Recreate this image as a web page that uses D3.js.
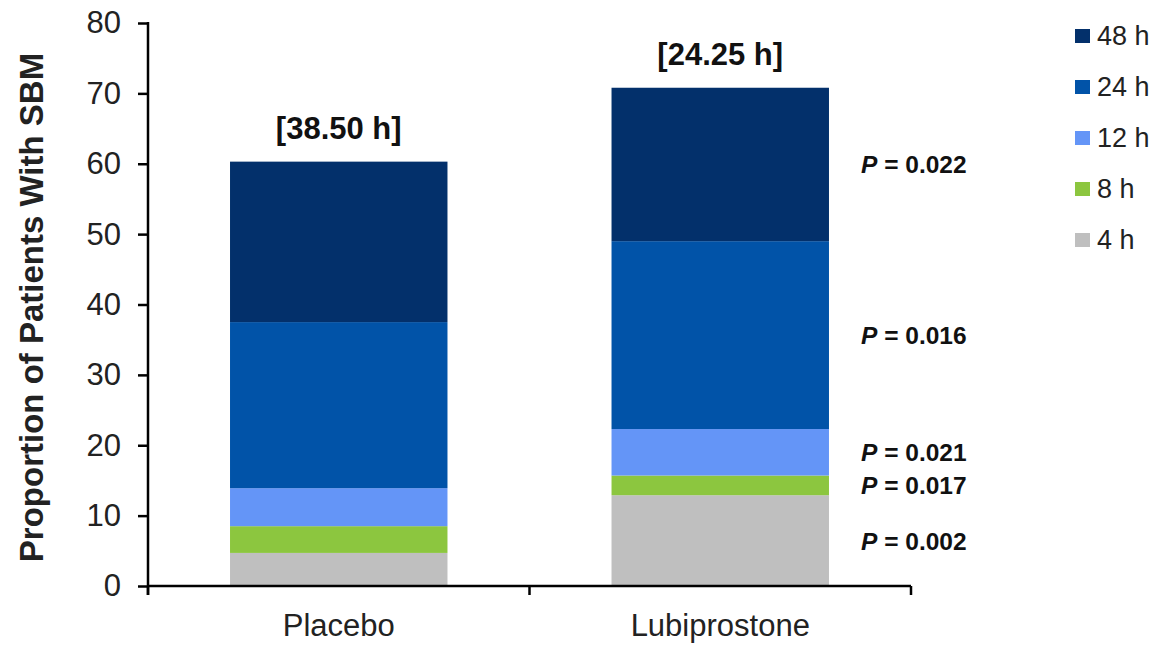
<!DOCTYPE html>
<html>
<head>
<meta charset="utf-8">
<script src="https://cdn.jsdelivr.net/npm/d3@7"></script>
<style>
  html, body { margin: 0; padding: 0; background: #ffffff; }
  svg { display: block; font-family: "Liberation Sans", Arial, Helvetica, sans-serif; }
</style>
</head>
<body>
<svg id="chart" width="1163" height="647"></svg>
<script>
// Groups on the x axis
const categories = ["Placebo", "Lubiprostone"];
// Time windows, bottom of the stack first
const timepoints = ["4 h", "8 h", "12 h", "24 h", "48 h"];
// Cumulative proportion of patients with SBM within each time window (%)
const placeboCumulative = [4.7, 8.5, 13.9, 37.5, 60.3];
const lubiprostoneCumulative = [12.9, 15.7, 22.3, 49.0, 70.8];
// Median time to first SBM, shown above each bar
const medianLabels = ["[38.50 h]", "[24.25 h]"];
// P values for lubiprostone vs placebo at each time window
const pValues = ["0.002", "0.017", "0.021", "0.016", "0.022"];
// Y axis ticks
const yTicks = [0, 10, 20, 30, 40, 50, 60, 70, 80];

const colors = ["#bfbfbf", "#8cc63f", "#6495f7", "#0153a8", "#03306b"];
const seriesByCategory = [placeboCumulative, lubiprostoneCumulative];

const svg = d3.select("#chart");

const x = d3.scaleBand()
  .domain(categories)
  .range([148, 911])
  .paddingInner(0.43)
  .paddingOuter(0.215);

const y = d3.scaleLinear()
  .domain([0, 80])
  .range([586, 23]);

const color = d3.scaleOrdinal().domain(timepoints).range(colors);

// Stacked segments: each segment spans the previous cumulative value to the current one
const segments = [];
categories.forEach((cat, ci) => {
  const vals = seriesByCategory[ci];
  vals.forEach((v, ti) => {
    segments.push({ cat, time: timepoints[ti], y0: ti === 0 ? 0 : vals[ti - 1], y1: v });
  });
});

svg.append("g")
  .selectAll("rect")
  .data(segments)
  .join("rect")
  .attr("x", d => x(d.cat))
  .attr("width", x.bandwidth())
  .attr("y", d => y(d.y1))
  .attr("height", d => y(d.y0) - y(d.y1))
  .attr("fill", d => color(d.time));

// Median time labels above the bars
svg.append("g")
  .selectAll("text")
  .data(categories)
  .join("text")
  .attr("x", d => x(d) + x.bandwidth() / 2)
  .attr("y", (d, i) => y(seriesByCategory[i][timepoints.length - 1]) - 23)
  .attr("text-anchor", "middle")
  .attr("font-size", 31)
  .attr("font-weight", "bold")
  .attr("fill", "#111")
  .text((d, i) => medianLabels[i]);

// P values beside the lubiprostone bar, centred on each segment
const pLabels = svg.append("g")
  .selectAll("text")
  .data(pValues)
  .join("text")
  .attr("x", 861)
  .attr("y", (d, i) => {
    const vals = lubiprostoneCumulative;
    const lo = i === 0 ? 0 : vals[i - 1];
    return y((lo + vals[i]) / 2);
  })
  .attr("dominant-baseline", "central")
  .attr("font-size", 24.5)
  .attr("font-weight", "bold")
  .attr("fill", "#111");
pLabels.append("tspan").attr("font-style", "italic").text("P");
pLabels.append("tspan").text(d => " = " + d);

// Y axis
const yAxis = svg.append("g")
  .attr("transform", "translate(148,0)")
  .call(d3.axisLeft(y).tickValues(yTicks).tickSize(10).tickSizeOuter(0).tickPadding(17));
yAxis.select(".domain").remove();
yAxis.selectAll(".tick line").attr("stroke", "#000").attr("stroke-width", 2.5);
yAxis.selectAll(".tick text")
  .attr("font-size", 31)
  .attr("fill", "#222")
  .attr("font-family", "Liberation Sans, Arial, sans-serif");
svg.append("line")
  .attr("x1", 148).attr("x2", 148)
  .attr("y1", y(80) - 1).attr("y2", y(0) + 9)
  .attr("stroke", "#000").attr("stroke-width", 2.5);

// X axis: baseline with ticks at the group boundaries
const [xr0, xr1] = x.range();
svg.append("line")
  .attr("x1", xr0).attr("x2", xr1)
  .attr("y1", y(0)).attr("y2", y(0))
  .attr("stroke", "#000").attr("stroke-width", 2.5);
const boundaries = [xr0, (xr0 + xr1) / 2, xr1];
svg.append("g")
  .selectAll("line")
  .data(boundaries)
  .join("line")
  .attr("x1", d => d).attr("x2", d => d)
  .attr("y1", y(0)).attr("y2", y(0) + 9)
  .attr("stroke", "#000").attr("stroke-width", 2.5);

const xAxis = svg.append("g")
  .attr("transform", `translate(0,${y(0)})`)
  .call(d3.axisBottom(x).tickSize(0).tickPadding(28));
xAxis.select(".domain").remove();
xAxis.selectAll(".tick text")
  .attr("font-size", 31)
  .attr("fill", "#222")
  .attr("font-family", "Liberation Sans, Arial, sans-serif");

// Y axis title
svg.append("text")
  .attr("transform", `translate(43,${(y(0) + y(80)) / 2 + 3}) rotate(-90)`)
  .attr("text-anchor", "middle")
  .attr("font-size", 33)
  .attr("font-weight", "bold")
  .attr("fill", "#222")
  .text("Proportion of Patients With SBM");

// Legend, longest window first
const legendItems = timepoints.slice().reverse();
const legend = svg.append("g")
  .selectAll("g")
  .data(legendItems)
  .join("g")
  .attr("transform", (d, i) => `translate(1075,${36 + i * 51})`);
legend.append("rect")
  .attr("x", 0).attr("y", -7)
  .attr("width", 15).attr("height", 14)
  .attr("fill", d => color(d));
legend.append("text")
  .attr("x", 22).attr("y", 0)
  .attr("dominant-baseline", "central")
  .attr("font-size", 27)
  .attr("fill", "#222")
  .text(d => d);
</script>
</body>
</html>
